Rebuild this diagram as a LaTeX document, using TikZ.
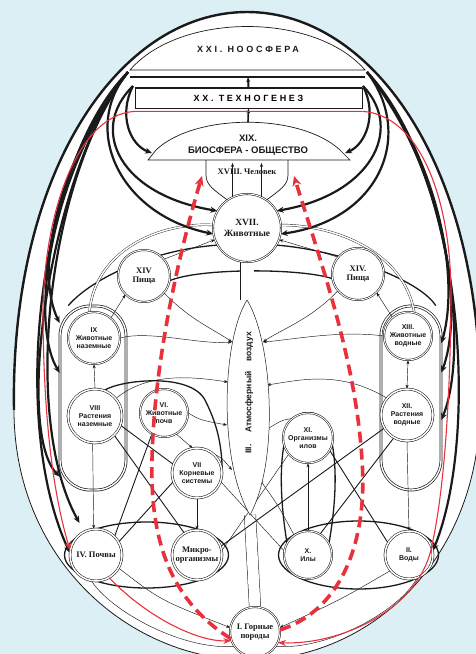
\documentclass[tikz,border=0pt]{standalone}
\usepackage{fontspec}
\setmainfont{Liberation Serif}
\setsansfont{Liberation Sans}
\newfontfamily\capfont[LetterSpace=30]{Liberation Sans}
\usetikzlibrary{arrows.meta,calc,backgrounds}
\definecolor{ink}{HTML}{1A1A1A}
\definecolor{rd}{HTML}{E8313C}
\definecolor{sky}{HTML}{DCEFF4}
\tikzset{
  orgs/.style ={circle,draw=ink,double,double distance=.9pt,line width=.55pt,fill=white,inner sep=0pt,align=center,text=ink,font=\sffamily\bfseries\fontsize{7}{8}\selectfont},
  orgr/.style ={orgs,font=\bfseries\fontsize{8.5}{9.5}\selectfont},
  lvl/.style  ={draw=ink,line width=.7pt,fill=white},
  loop/.style ={draw=ink,double=white,double distance=1.4pt,line width=.7pt,rounded corners=30pt},
  a/.style    ={-{Stealth[length=4pt]},line width=.45pt,ink},
  ln/.style   ={line width=.45pt,ink},
  md/.style   ={line width=.9pt,ink},
  dl/.style   ={draw=ink,double=white,double distance=1.5pt,line width=.4pt},
  hv/.style   ={line width=1.3pt,ink},
  fb/.style   ={-{Stealth[length=7pt,width=6pt]},line width=2.2pt,ink},
  rl/.style   ={-{Stealth[length=8pt,width=6pt]},line width=1.1pt,rd},
  rdsh/.style ={-{Stealth[length=10pt,width=9pt]},line width=3.6pt,rd,dash pattern=on 11pt off 6pt},
}

\begin{document}
\begin{tikzpicture}[x=1pt,y=-1pt]
\useasboundingbox (0,0) rectangle (476,654);

% ===== organisms =====
\node[orgr,minimum size=68pt,font=\bfseries\fontsize{9.5}{11}\selectfont] (xvii) at (247,228) {XVII.\\Животные};
\node[orgr,minimum size=52pt] (xivl) at (144,276) {XIV\\Пища};
\node[orgr,minimum size=52pt] (xivr) at (358,274) {XIV.\\Пища};
\node[orgs,minimum size=52pt] (ix)   at (94,338)  {IX\\Животные\\наземные};
\node[orgs,minimum size=54pt,double distance=1.5pt] (viii) at (95,416) {VIII\\Растения\\наземные};
\node[orgs,minimum size=48pt] (vi)   at (164,413) {VI.\\Животные\\почв};
\node[orgs,minimum size=50pt,double distance=1.5pt] (vii) at (197,473) {VII\\Корневые\\системы};
\node[orgs,minimum size=48pt] (xiii) at (408,336) {XIII.\\Животные\\водные};
\node[orgs,minimum size=52pt,double distance=1.5pt] (xii) at (407,415) {XII.\\Растения\\водные};
\node[orgs,minimum size=50pt] (xi)   at (308,438) {XI.\\Организмы\\илов};
\node[orgr,minimum size=52pt,double distance=1.5pt] (iv) at (96,555) {IV. Почвы};
\node[orgr,minimum size=50pt,double distance=1.5pt] (mic) at (197,555) {Микро-\\организмы};
\node[orgs,minimum size=48pt] (x)    at (308,555) {X.\\Илы};
\node[orgs,minimum size=48pt,double distance=1.5pt] (ii) at (409,555) {II.\\Воды};
\node[orgr,minimum size=50pt] (i)    at (255,632) {I. Горные\\породы};

% ===== atmosphere =====
\coordinate (iiit) at (247,300);
\coordinate (iiib) at (250,515);
\draw[lvl,line width=.5pt] (iiit) .. controls (222,340) and (218,460) .. (iiib) .. controls (280,460) and (272,340) .. (iiit);
\node[rotate=90,font=\sffamily\bfseries\fontsize{8.5}{10}\selectfont,text=ink] (iii) at (249,393) {III.\hspace{12pt}Атмосферный\hspace{10pt}воздух};
\coordinate (iiil1) at (232,342); \coordinate (iiil2) at (228,382);
\coordinate (iiil3) at (227,425); \coordinate (iiil4) at (232,470);
\coordinate (iiir1) at (263,342); \coordinate (iiir2) at (267,385);
\coordinate (iiir3) at (266,430); \coordinate (iiir4) at (260,480);

% ===== upper levels =====
\draw[lvl] (130,70) .. controls (180,12) and (315,12) .. (365,70) -- cycle;
\node[font=\capfont\bfseries\fontsize{9}{10}\selectfont,text=ink] (xxi) at (248,49) {XXI. НООСФЕРА};
\coordinate (xxib) at (248,77);
\draw[line width=2.2pt,ink] (130,77) -- (365,77);
\node[lvl,minimum width=227pt,minimum height=20pt,inner sep=0pt,font=\capfont\bfseries\fontsize{9}{10}\selectfont] (xx) at (248.5,98) {XX. ТЕХНОГЕНЕЗ};
\draw[line width=2pt,ink] (xx.north west) -- (xx.north east);
\draw[-{Stealth[length=5pt]},line width=2pt,ink] (xx.north) -- (xxib);
\draw[lvl] (148,160) -- (156,150) .. controls (195,113) and (300,113) .. (340,150) -- (350,160) -- cycle;
\node[align=center,font=\sffamily\bfseries\fontsize{9.5}{11.5}\selectfont,text=ink] (xix) at (248,145) {XIX.\\БИОСФЕРА - ОБЩЕСТВО};
\coordinate (xixt) at (248,122);
\coordinate (xixl) at (152,153);
\coordinate (xixr) at (345,153);
\draw[-{Stealth[length=5pt]},line width=1.6pt,ink] (xixt) -- (xx.south);
\node[font=\bfseries\fontsize{8.5}{10}\selectfont,text=ink] (xviii) at (247,172) {XVIII. Человек};
\draw[ln,line width=.7pt] (206,160) -- (206,175) .. controls (206,185) and (214,190) .. (xvii.125);
\draw[ln,line width=.7pt] (288,160) -- (288,175) .. controls (288,185) and (280,190) .. (xvii.55);
\draw[a] (xvii.115) -- ++(0,-34);
\draw[a] (xvii.65) -- ++(0,-34);
\coordinate (xxil) at (128,72);  \coordinate (xxir) at (367,72);
\coordinate (xxl) at (133,86);   \coordinate (xxr) at (363,86);

% ===== red flows =====
\draw[rl] ($(xx.south east)+(0,3)$) -- ($(xx.south west)+(0,3)$) .. controls (75,115) and (42,220) .. (43,320) .. controls (44,430) and (55,500) .. (iv.170);
\draw[rl] ($(xx.south east)+(0,3)$) .. controls (420,115) and (452,200) .. (451,300) .. controls (450,420) and (442,500) .. (432,545) .. controls (420,610) and (340,645) .. (i.-25);
\draw[rl] (iv.-60) .. controls (150,620) and (200,642) .. (i.200);
\coordinate (xviiil) at (202,176);
\coordinate (xviiir) at (294,176);
\draw[rdsh] (i.195) .. controls (170,600) and (150,540) .. (152,460) .. controls (154,360) and (180,250) .. (xviiil);
\draw[rdsh] (i.5) .. controls (342,610) and (368,540) .. (362,460) .. controls (356,360) and (320,260) .. (xviiir);

\begin{scope}[on background layer]
% ===== field =====
\fill[sky] (0,0) rectangle (476,654);
\fill[white] (247,12) .. controls (120,12) and (10,170) .. (14,410) .. controls (14,560) and (130,660) .. (250,660)
  .. controls (370,660) and (478,560) .. (480,410) .. controls (484,170) and (374,12) .. (247,12);
\draw[ink,line width=2.4pt] (14,410) .. controls (10,170) and (120,12) .. (247,12) .. controls (374,12) and (484,170) .. (480,410);
\draw[ink,line width=.8pt] (14,410) .. controls (14,560) and (130,660) .. (250,660) .. controls (370,660) and (478,560) .. (480,410);

% ===== loops =====
\node[loop,minimum width=66pt,minimum height=184pt] (lpl) at (93,398) {};
\node[loop,minimum width=60pt,minimum height=184pt] (rpl) at (411,398) {};
\draw[hv] ($(iv)!.5!(mic)$) ellipse [x radius=82pt,y radius=33pt];
\draw[hv] ($(x)!.5!(ii)$) ellipse [x radius=80pt,y radius=34pt];
\draw[hv] (x.150) .. controls (275,470) and (282,410) .. (xi.north) .. controls (334,410) and (342,470) .. (x.30);
\draw[hv] (viii.70) .. controls (120,380) and (190,372) .. (205,400) .. controls (215,420) and (222,440) .. (vii.east);
\draw[hv] (xivl.-10) .. controls (200,268) and (300,268) .. (xivr.190);
\draw[hv] (xvii.210) .. controls (150,250) and (90,280) .. (lpl.105);
\draw[hv] (xvii.-30) .. controls (340,250) and (420,280) .. (rpl.75);
\draw[dl] (ix.100) .. controls (95,250) and (160,222) .. (xvii.175);
\draw[dl] (xvii.5) .. controls (340,225) and (405,255) .. (xiii.75);

% ===== feedback from upper levels =====
\draw[fb] (xxil) .. controls (40,160) and (8,420) .. (iv.175);
\draw[fb] (xxil) .. controls (50,170) and (14,430) .. (lpl.247);
\draw[fb] (xxil) .. controls (46,180) and (22,420) .. ($(mic)!.5!(iv)+(-67,-32)$);
\draw[fb] (xxil) .. controls (52,170) and (28,320) .. (lpl.143);
\draw[fb] (xxil) .. controls (58,160) and (34,270) .. (lpl.114);
\draw[fb] (xxil) .. controls (80,130) and (120,215) .. (xvii.190);
\draw[fb] (xxl) .. controls (88,130) and (120,195) .. (xvii.150);
\draw[fb] (xxl) .. controls (118,115) and (130,145) .. (xixl);
\draw[fb] (xxir) .. controls (460,170) and (482,430) .. (ii.10);
\draw[fb] (xxir) .. controls (450,170) and (470,350) .. (rpl.-36);
\draw[fb] (xxir) .. controls (445,170) and (465,310) .. (rpl.40);
\draw[fb] (xxir) .. controls (440,160) and (460,280) .. (rpl.61);
\draw[fb] (xxir) .. controls (415,135) and (380,220) .. (xvii.-10);
\draw[fb] (xxr) .. controls (405,130) and (370,195) .. (xvii.30);
\draw[fb] (xxr) .. controls (378,115) and (365,145) .. (xixr);

% ===== exchange =====
\draw[line width=.5pt,ink,double=white,double distance=13pt] (xvii.south) -- (iiit);
\draw[line width=.5pt,ink,double=white,double distance=11pt] (iiib) -- (i.north);
\draw[a] (xivl.40) -- (xvii.200);
\draw[a] (xivr.140) -- (xvii.-20);
\draw[a] (ix.50) -- (xivl.225);
\draw[a] (xiii.130) -- (xivr.-45);
\draw[a] (viii.north) -- (ix.south);
\draw[{Stealth[length=4pt]}-{Stealth[length=4pt]},line width=.45pt,ink] (xii.north) -- (xiii.south);
\draw[a] (xii.south) -- (ii.north);
\draw[a] (x.north) -- (xi.south);
\draw[a] (vii.south) -- (mic.north);
\draw[dl] (iv.east) -- (mic.west);
\draw[dl] (x.east) -- (ii.west);
\draw[a] (ix.east) .. controls (150,330) and (200,345) .. (iiil1);
\draw[a] (viii.40) .. controls (150,370) and (200,378) .. (iiil2);
\draw[a] (vi.east) .. controls (200,420) .. (iiil3);
\draw[a] (vii.50) .. controls (222,458) .. (iiil4);
\draw[a] (xiii.west) .. controls (340,330) and (290,340) .. (iiir1);
\draw[a] (xii.140) .. controls (340,370) and (300,380) .. (iiir2);
\draw[a] (xi.130) .. controls (282,420) .. (iiir3);
\draw[a] (x.125) .. controls (278,505) .. (iiir4);
\draw[a] (xivl.-40) .. controls (190,320) and (215,330) .. (iiil1);
\draw[a] (xivr.220) .. controls (310,320) and (280,330) .. (iiir1);
\draw[md] (viii.-20) -- (vii.160);
\draw[md] (viii.-45) -- (mic.120);
\draw[md] (vi.-120) -- (iv.45);
\draw[md] (vii.200) -- (iv.30);
\draw[a] (vi.-60) -- (vii.100);
\draw[a] (viii.-95) -- (iv.95);
\draw[ln] (vii.-20) -- (x.170);
\draw[md] (xii.-120) -- (x.60);
\draw[md] (xii.-150) -- (mic.20);
\draw[md] (xi.-30) -- (ii.150);
\draw[ln] (xi.-140) -- (mic.10);
\draw[a] (iv.-30) .. controls (160,600) .. (i.170);
\draw[a] (ii.-140) .. controls (340,600) .. (i.10);
\draw[ln] (iv.-100) .. controls (110,610) and (180,650) .. (i.215);
\draw[ln] (ii.-70) .. controls (400,610) and (330,650) .. (i.-35);
\end{scope}
\end{tikzpicture}
\end{document}
